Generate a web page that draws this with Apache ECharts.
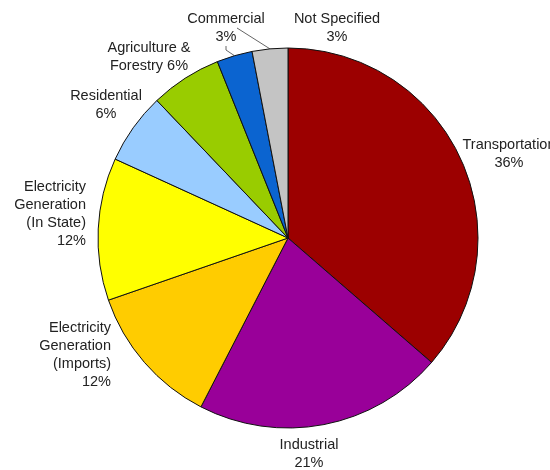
<!DOCTYPE html>
<html>
<head>
<meta charset="utf-8">
<script src="https://cdn.jsdelivr.net/npm/echarts@6/dist/echarts.min.js"></script>
<style>
  html, body { margin: 0; padding: 0; background: #fff; }
  #chart { width: 550px; height: 470px; }
</style>
</head>
<body>
<div id="chart"></div>
<script>
// Emissions share by sector, clockwise from 12 o'clock
const sectors = [
  'Transportation',
  'Industrial',
  'Electricity\nGeneration\n(Imports)',
  'Electricity\nGeneration\n(In State)',
  'Residential',
  'Agriculture &\nForestry',
  'Commercial',
  'Not Specified'
];
const shares = [36, 21, 12, 12, 6, 6, 3, 3];
const sliceColors = ['#9c0000', '#990099', '#ffcc00', '#ffff00', '#99ccff', '#99cc00', '#0b64d0', '#c4c4c4'];

// Label placement: [x, y, align] for each sector's text block
const labelSpots = [
  [509, 154, 'center'],
  [309, 454, 'center'],
  [111, 355, 'right'],
  [86, 214, 'right'],
  [106, 105, 'center'],
  [149, 57, 'center'],
  [226, 28, 'center'],
  [337, 28, 'center']
];
// Sectors whose label is tied to its slice by a short leader line
const withLeader = [false, false, false, false, false, false, true, true];

const chart = echarts.init(document.getElementById('chart'), null, { renderer: 'canvas' });

const data = sectors.map((name, i) => ({
  name: name,
  value: shares[i],
  itemStyle: { color: sliceColors[i] },
  label: {
    formatter: name === 'Agriculture &\nForestry'
      ? 'Agriculture &\nForestry ' + shares[i] + '%'
      : name + '\n' + shares[i] + '%',
    align: labelSpots[i][2]
  },
  labelLine: { show: withLeader[i] }
}));

chart.setOption({
  animation: false,
  backgroundColor: '#ffffff',
  series: [{
    type: 'pie',
    center: [288, 238],
    radius: 190,
    startAngle: 90,
    clockwise: true,
    data: data,
    itemStyle: { borderColor: '#111', borderWidth: 1 },
    label: {
      show: true,
      position: 'outside',
      color: '#222222',
      fontFamily: 'Liberation Sans, Arial, sans-serif',
      fontSize: 14.5,
      lineHeight: 18,
      overflow: 'none',
      width: 200
    },
    labelLine: {
      length: 4,
      length2: 4,
      lineStyle: { color: '#666', width: 1 }
    },
    labelLayout: function (params) {
      const s = labelSpots[params.dataIndex];
      return { x: s[0], y: s[1], align: s[2], verticalAlign: 'middle' };
    },
    emphasis: { disabled: true }
  }]
});
</script>
</body>
</html>
